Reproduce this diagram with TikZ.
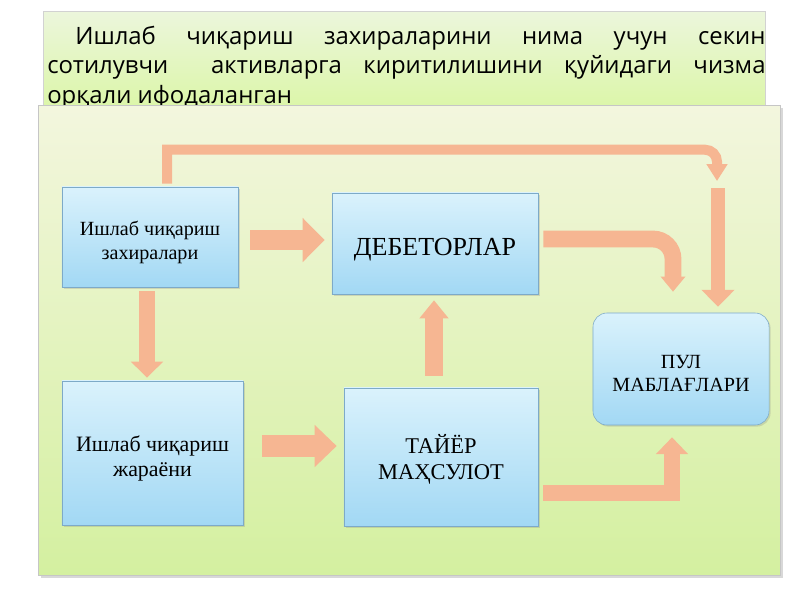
\documentclass[tikz,border=0pt]{standalone}
\usepackage{fontspec}
\setmainfont{Liberation Serif}
\newfontfamily\titlefont{Open Sans}
\usetikzlibrary{arrows.meta,shadows,calc}
\definecolor{arrcol}{RGB}{246,182,146}
\definecolor{boxtop}{RGB}{218,242,252}
\definecolor{boxbot}{RGB}{162,216,244}
\definecolor{boxline}{RGB}{125,170,200}
\definecolor{paneltop}{RGB}{243,246,222}
\definecolor{panelbot}{RGB}{212,240,160}
\definecolor{titletop}{RGB}{236,246,220}
\definecolor{titlebot}{RGB}{220,246,170}
\tikzset{
  box/.style={draw=boxline, top color=boxtop, bottom color=boxbot, align=center, inner sep=2pt,
    drop shadow={shadow xshift=0.04cm, shadow yshift=-0.04cm, opacity=0.25}},
  blockarr/.style n args={3}{draw=arrcol, line width=#1, -{Triangle[width=#2,length=#3]}},
}
\begin{document}
\begin{tikzpicture}[x=0.025cm,y=-0.025cm]
\useasboundingbox (0,0) rectangle (800,600);
\fill[white] (0,0) rectangle (800,600);
%
% title
\draw[gray!35, top color=titletop, bottom color=titlebot] (43,11) rectangle (765,105);
\node[anchor=north west, inner sep=0pt, text width=17.95cm, align=justify,
  font=\titlefont\fontsize{17}{20.8}\selectfont] (title) at (47,26)
  {\hspace*{0.7cm}Ишлаб чиқариш захираларини нима учун секин\linebreak
   сотилувчи\ \ активларга киритилишини қуйидаги чизма\linebreak
   орқали ифодаланган};
%
% panel
\draw[gray!45, top color=paneltop, bottom color=panelbot,
  drop shadow={shadow xshift=0.08cm, shadow yshift=-0.08cm, opacity=0.3}] (38,105) rectangle (780,575);
%
\node[box, minimum width=4.4cm, minimum height=2.5cm, font=\fontsize{14.3}{17}\selectfont]
  (zaxira) at (150,237) {\rule{0pt}{1.3em}Ишлаб чиқариш\\захиралари};
\node[box, minimum width=5.15cm, minimum height=2.525cm, font=\fontsize{18.5}{21}\selectfont, text height=21pt]
  (debitor) at (435,243.5) {ДЕБЕТОРЛАР};
\node[box, minimum width=4.525cm, minimum height=3.6cm, font=\fontsize{15.6}{17.5}\selectfont]
  (jarayon) at (152.5,453) {\rule{0pt}{1.2em}Ишлаб чиқариш\\жараёни};
\node[box, minimum width=4.85cm, minimum height=3.45cm, font=\fontsize{16}{18.5}\selectfont]
  (tayyor) at (441,457) {\rule{0pt}{1.05em}ТАЙЁР\\МАҲСУЛОТ};
\node[box, rounded corners=0.35cm, minimum width=4.4cm, minimum height=2.8cm, font=\fontsize{14.3}{17}\selectfont]
  (pul) at (681,369) {\rule{0pt}{1.1em}ПУЛ\\МАБЛАҒЛАРИ};
\coordinate (turn) at (717,181);
%
% arrows
\draw[blockarr={0.5cm}{1.07cm}{0.55cm}] ($(zaxira.east)+(12,3)$) -- ($(debitor.west)+(-7,-3.5)$);
\draw[blockarr={0.42cm}{0.78cm}{0.4cm}] ($(zaxira.south)+(-3,4)$) -- ($(jarayon.north)+(-5.5,-3)$);
\draw[blockarr={0.55cm}{1.02cm}{0.55cm}] ($(jarayon.east)+(19,-7)$) -- ($(tayyor.west)+(-7,-11)$);
\draw[blockarr={0.45cm}{0.7cm}{0.45cm}] ($(tayyor.north)+(-7,-12)$) -- ($(debitor.south)+(-1,6)$);
\draw[blockarr={0.42cm}{0.78cm}{0.42cm}] ($(tayyor.east)+(5,36)$) -| ($(pul.south)+(-9,12)$);
\draw[blockarr={0.42cm}{0.6cm}{0.38cm}, rounded corners=0.5cm] ($(debitor.east)+(5,-4.5)$) -| ($(pul.north)+(-8,-21)$);
\draw[blockarr={0.25cm}{0.5cm}{0.42cm}] ($(zaxira.north)+(17,-3)$) -- ++(0,-34) [rounded corners=0.3cm] -| (turn);
\draw[blockarr={0.33cm}{0.8cm}{0.42cm}] ($(turn)+(1,7)$) -- ($(pul.north)+(37,-6)$);
\end{tikzpicture}
\end{document}
